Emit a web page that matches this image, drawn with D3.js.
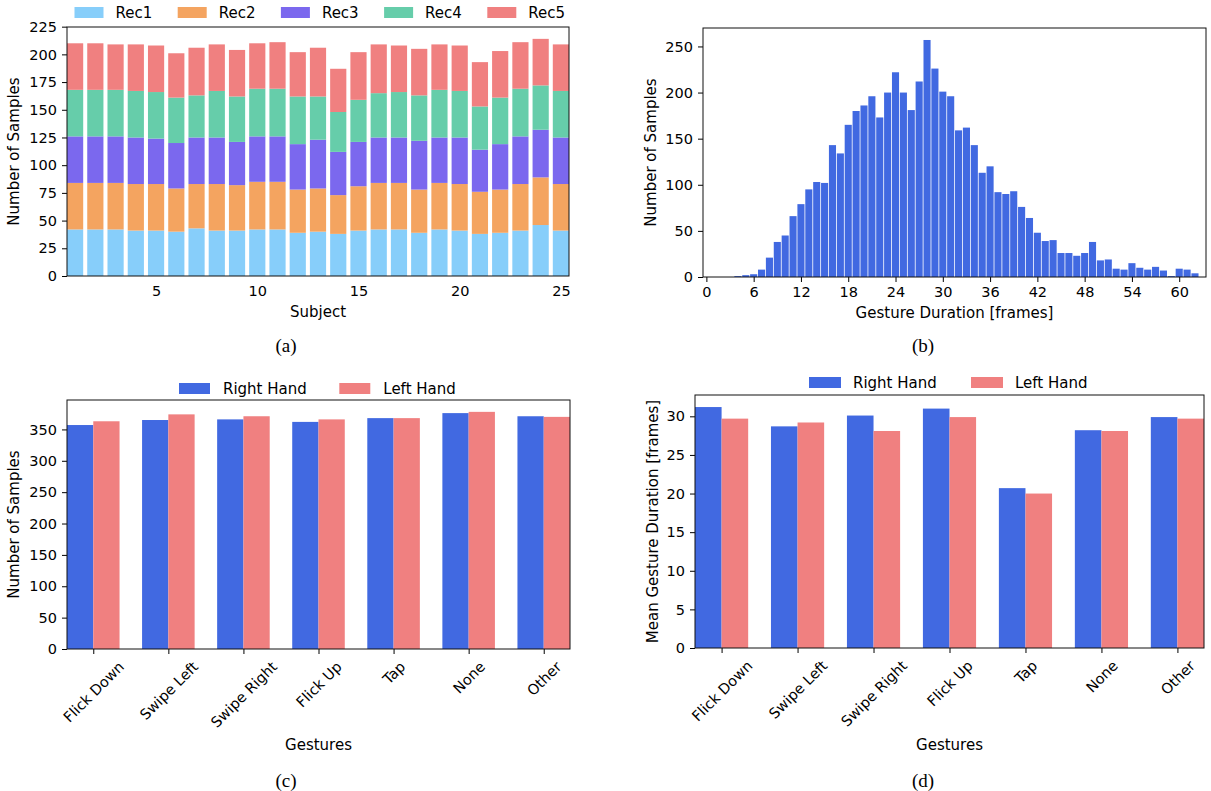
<!DOCTYPE html>
<html>
<head>
<meta charset="utf-8">
<script src="https://cdn.jsdelivr.net/npm/d3@7"></script>
<style>
body { margin: 0; background: #fff; }
svg { font-family: "DejaVu Sans", sans-serif; }
.tick text { font-family: "DejaVu Sans", sans-serif; font-size: 14.5px; fill: #000; }
.tick line { stroke: #000; }
.label, .legend text { font-family: "DejaVu Sans", sans-serif; font-size: 15px; fill: #000; }
.caption { font-family: "Liberation Serif", "Times New Roman", serif; font-size: 19px; }
</style>
</head>
<body>
<svg width="1211" height="791"></svg>
<script>
// ---- data ----
var subjects = d3.range(1, 26);
var rec1 = [42,42,42,41,41,40,43,41,41,42,42,39,40,38,41,42,42,39,42,41,38,39,41,46,41];
var rec2 = [42,42,42,42,42,39,40,42,41,43,43,39,39,35,40,42,42,39,42,42,38,39,42,43,42];
var rec3 = [42,42,42,42,41,41,42,42,39,41,41,41,44,39,40,41,41,44,41,42,38,41,43,43,42];
var rec4 = [42,42,42,42,42,41,38,42,41,43,43,43,39,36,38,40,41,41,43,42,39,42,43,40,42];
var rec5 = [42,42,41,42,42,40,43,42,42,41,42,40,44,39,43,44,42,42,41,41,40,42,42,42,42];
var recKeys = ['Rec1', 'Rec2', 'Rec3', 'Rec4', 'Rec5'];
var recColors = ['#87cefa', '#f4a460', '#7b68ee', '#66cdaa', '#f08080'];

var durations = d3.range(0, 63);
var durationCounts = [0,0,0,0,1,2,3,8,21,38,45,66,79,95,103,102,143,134,165,180,186,196,173,200,
    222,200,181,212,257,226,201,196,159,162,143,113,120,92,90,93,76,64,48,39,40,26,26,23,26,38,
    18,19,9,8,15,10,8,11,7,1,9,8,4];

var gestures = ['Flick Down', 'Swipe Left', 'Swipe Right', 'Flick Up', 'Tap', 'None', 'Other'];
var handNames = ['Right Hand', 'Left Hand'];
var handColors = ['#4169e1', '#f08080'];
var rightCount = [357, 365, 366, 362, 368, 376, 371];
var leftCount = [363, 374, 371, 366, 368, 378, 370];
var rightDur = [31.2, 28.7, 30.1, 31.0, 20.7, 28.2, 29.9];
var leftDur = [29.7, 29.2, 28.1, 29.9, 20.0, 28.1, 29.7];

var svg = d3.select('svg');

// ---- helpers ----
function frame(b) {
    svg.append('rect')
        .attr('x', b.left).attr('y', b.top)
        .attr('width', b.right - b.left).attr('height', b.bottom - b.top)
        .attr('fill', 'none').attr('stroke', '#111').attr('stroke-width', 1);
}

function yAxis(b, scale, ticks) {
    svg.append('g')
        .attr('transform', 'translate(' + b.left + ',0)')
        .call(d3.axisLeft(scale).tickValues(ticks).tickSize(5).tickPadding(5).tickSizeOuter(0))
        .call(function(g) { g.select('.domain').remove(); });
}

function yLabel(x, y, txt) {
    svg.append('text').attr('class', 'label')
        .attr('transform', 'translate(' + x + ',' + y + ') rotate(-90)')
        .attr('text-anchor', 'middle')
        .text(txt);
}

function xLabel(x, y, txt) {
    svg.append('text').attr('class', 'label')
        .attr('x', x).attr('y', y)
        .attr('text-anchor', 'middle')
        .text(txt);
}

function caption(x, y, txt) {
    svg.append('text').attr('class', 'caption')
        .attr('x', x).attr('y', y)
        .attr('text-anchor', 'middle')
        .text(txt);
}

function legend(x0, step, y, sw, gap, names, colors) {
    var g = svg.append('g').attr('class', 'legend');
    names.forEach(function(n, i) {
        var x = x0 + i * step;
        g.append('rect').attr('x', x).attr('y', y).attr('width', sw).attr('height', 11)
            .attr('fill', colors[i]);
        g.append('text').attr('x', x + gap).attr('y', y + 11).text(n);
    });
}

// ---- (a) stacked bars per subject ----
var bA = {left: 67, right: 569, top: 27, bottom: 276};
var table = subjects.map(function(s, i) {
    return {subject: s, Rec1: rec1[i], Rec2: rec2[i], Rec3: rec3[i], Rec4: rec4[i], Rec5: rec5[i]};
});
var stacked = d3.stack().keys(recKeys)(table);
var xA = d3.scaleLinear().domain([0.6, 25.4]).range([bA.left, bA.right]);
var yA = d3.scaleLinear().domain([0, 224.7]).range([bA.bottom, bA.top]);

svg.append('g').selectAll('g')
    .data(stacked)
    .enter().append('g')
    .attr('fill', function(d, i) { return recColors[i]; })
    .selectAll('rect')
    .data(function(d) { return d; })
    .enter().append('rect')
    .attr('x', function(d) { return xA(d.data.subject - 0.4); })
    .attr('width', xA(0.8) - xA(0))
    .attr('y', function(d) { return yA(d[1]); })
    .attr('height', function(d) { return yA(d[0]) - yA(d[1]); });

svg.append('g')
    .attr('transform', 'translate(0,' + bA.bottom + ')')
    .call(d3.axisBottom(xA).tickValues([5, 10, 15, 20, 25]).tickSize(0).tickPadding(10))
    .call(function(g) { g.select('.domain').remove(); });
yAxis(bA, yA, d3.range(0, 226, 25));
frame(bA);
yLabel(19, (bA.top + bA.bottom) / 2, 'Number of Samples');
xLabel((bA.left + bA.right) / 2, 317, 'Subject');
legend(74.5, 103.2, 7, 29, 41, recKeys, recColors);
caption(286, 352, '(a)');

// ---- (b) duration histogram ----
var bB = {left: 703, right: 1206, top: 28, bottom: 277};
var xB = d3.scaleLinear().domain([-0.43, 63.4]).range([bB.left, bB.right]);
var yB = d3.scaleLinear().domain([0, 270]).range([bB.bottom, bB.top]);

svg.append('g').selectAll('rect')
    .data(durations)
    .enter().append('rect')
    .attr('fill', '#4169e1')
    .attr('x', function(d) { return xB(d - 0.45); })
    .attr('width', xB(0.9) - xB(0))
    .attr('y', function(d, i) { return yB(durationCounts[i]); })
    .attr('height', function(d, i) { return yB(0) - yB(durationCounts[i]); });

svg.append('g')
    .attr('transform', 'translate(0,' + bB.bottom + ')')
    .call(d3.axisBottom(xB).tickValues(d3.range(0, 61, 6)).tickSize(5).tickPadding(5).tickSizeOuter(0))
    .call(function(g) { g.select('.domain').remove(); });
yAxis(bB, yB, d3.range(0, 251, 50));
frame(bB);
yLabel(656, (bB.top + bB.bottom) / 2, 'Number of Samples');
xLabel((bB.left + bB.right) / 2, 318, 'Gesture Duration [frames]');
caption(923, 352, '(b)');

// ---- (c) and (d) grouped bars by gesture ----
function grouped(b, right, left, yMax, ticks) {
    var x = d3.scaleLinear().domain([-0.35, 6.35]).range([b.left, b.right]);
    var y = d3.scaleLinear().domain([0, yMax]).range([b.bottom, b.top]);
    var series = [right, left];
    var clipId = 'clip' + b.left;
    svg.append('clipPath').attr('id', clipId).append('rect')
        .attr('x', b.left).attr('y', b.top)
        .attr('width', b.right - b.left).attr('height', b.bottom - b.top);
    var g = svg.append('g').attr('clip-path', 'url(#' + clipId + ')');
    series.forEach(function(vals, s) {
        g.append('g').selectAll('rect')
            .data(vals)
            .enter().append('rect')
            .attr('fill', handColors[s])
            .attr('x', function(d, i) { return x(i - 0.35 + s * 0.35); })
            .attr('width', x(0.35) - x(0))
            .attr('y', function(d) { return y(d); })
            .attr('height', function(d) { return y(0) - y(d); });
    });
    var ax = svg.append('g')
        .attr('transform', 'translate(0,' + b.bottom + ')')
        .call(d3.axisBottom(x).tickValues(d3.range(0, 7))
            .tickFormat(function(i) { return gestures[i]; })
            .tickSize(5).tickPadding(5).tickSizeOuter(0));
    ax.select('.domain').remove();
    ax.selectAll('.tick text').each(function() {
        var t = d3.select(this);
        var L = this.getComputedTextLength();
        var h = (L + 14.5) * Math.SQRT1_2;
        t.attr('text-anchor', 'middle').attr('y', 0).attr('dy', '0.35em')
            .attr('transform', 'translate(0,' + (10 + h / 2) + ') rotate(-45)');
    });
    yAxis(b, y, ticks);
    frame(b);
}

var bC = {left: 67, right: 570, top: 400, bottom: 649};
grouped(bC, rightCount, leftCount, 396.9, d3.range(0, 351, 50));
yLabel(19, (bC.top + bC.bottom) / 2, 'Number of Samples');
xLabel((bC.left + bC.right) / 2, 750, 'Gestures');
legend(179, 160.3, 383, 31, 44, handNames, handColors);
caption(286, 787, '(c)');

var bD = {left: 695, right: 1204, top: 395, bottom: 648};
grouped(bD, rightDur, leftDur, 32.76, d3.range(0, 31, 5));
yLabel(658, (bD.top + bD.bottom) / 2, 'Mean Gesture Duration [frames]');
xLabel((bD.left + bD.right) / 2, 750, 'Gestures');
legend(809, 162, 377, 32, 44, handNames, handColors);
caption(923, 787, '(d)');
</script>
</body>
</html>
